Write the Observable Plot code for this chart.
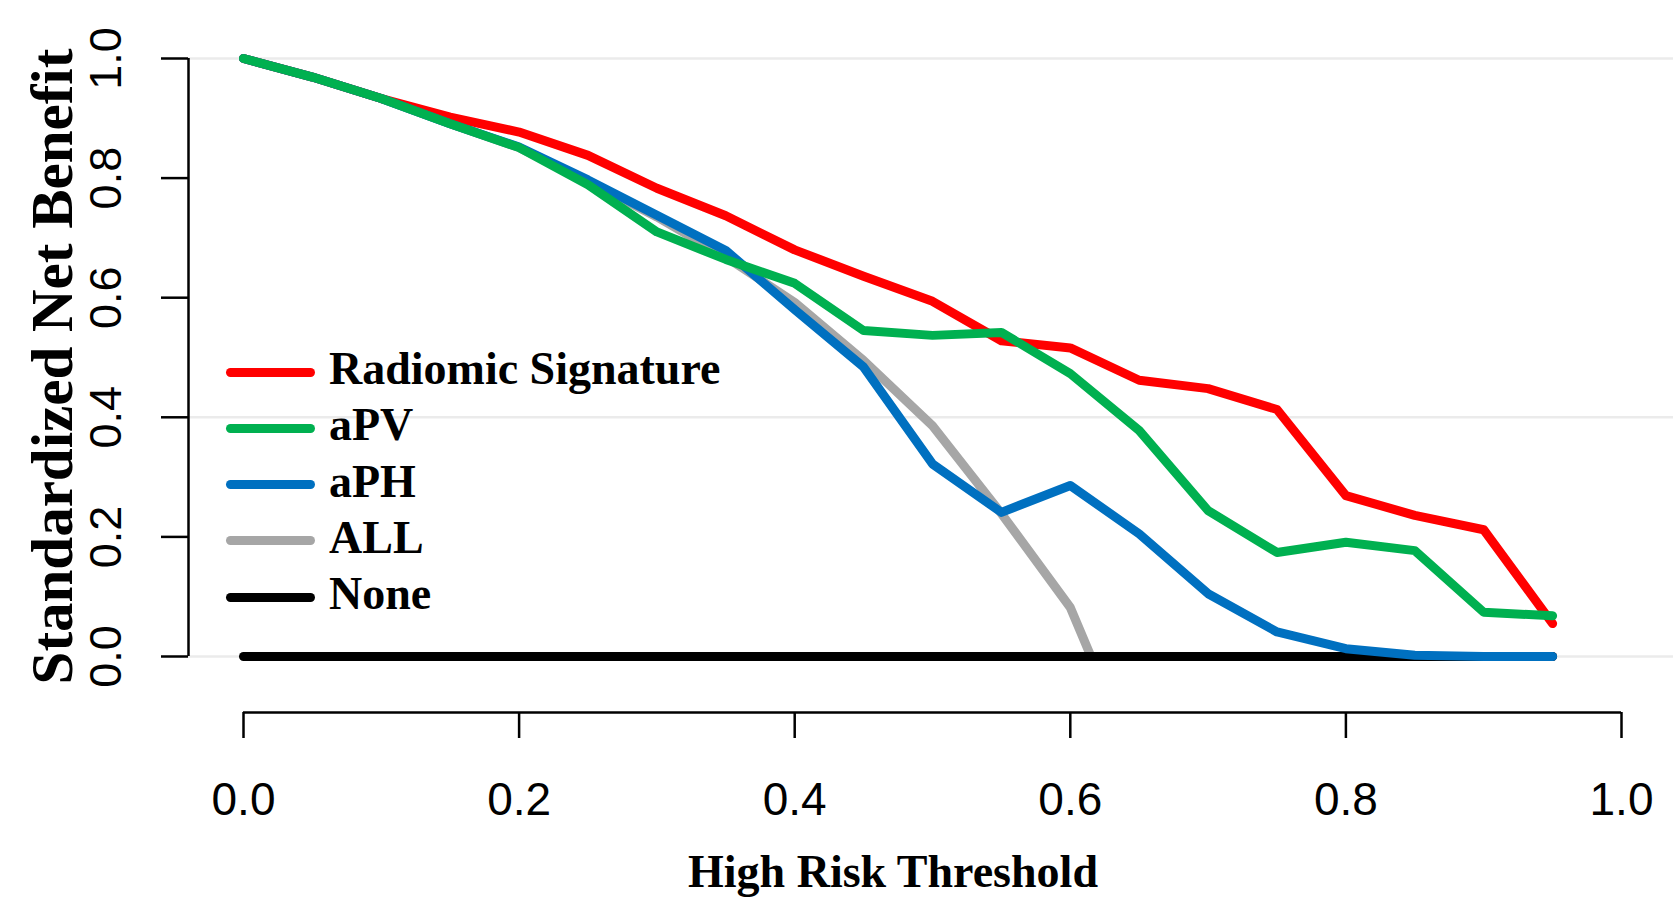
<!DOCTYPE html>
<html><head><meta charset="utf-8">
<script src="https://cdn.jsdelivr.net/npm/d3@7"></script>
<script src="https://cdn.jsdelivr.net/npm/@observablehq/plot@0.6"></script>
<style>
body{margin:0;background:#fff;}
#chart{position:relative;width:1678px;height:912px;}
#legend{position:absolute;left:226px;top:344px;font-family:"Liberation Serif","Times New Roman",serif;font-weight:bold;font-size:46px;color:#000;}
.row{display:flex;align-items:center;height:56.25px;}
.sw{width:89px;height:9px;border-radius:4.5px;margin-right:14px;flex:none;}
.lab{position:relative;top:-3px;line-height:1;white-space:nowrap;}
</style></head><body><div id="chart"></div>
<script>
// ---- data ----
const thresholds = [0.00,0.05,0.10,0.15,0.20,0.25,0.30,0.35,0.40,0.45,0.50,0.55,0.60,0.65,0.70,0.75,0.80,0.85,0.90,0.95];
const radiomic = [1.000,0.969,0.933,0.902,0.877,0.838,0.783,0.737,0.680,0.636,0.594,0.528,0.516,0.462,0.448,0.413,0.269,0.236,0.212,0.055];
const aPV      = [1.000,0.969,0.933,0.891,0.851,0.789,0.710,0.664,0.624,0.545,0.537,0.542,0.473,0.378,0.244,0.174,0.191,0.177,0.074,0.068];
const aPH      = [1.000,0.969,0.933,0.891,0.852,0.797,0.738,0.679,0.580,0.484,0.322,0.241,0.286,0.205,0.105,0.041,0.013,0.002,0.000,0.000];
const allX     = [0.00,0.05,0.10,0.15,0.20,0.25,0.30,0.35,0.40,0.45,0.50,0.55,0.60,0.615];
const allY     = [1.000,0.969,0.933,0.891,0.851,0.795,0.735,0.668,0.592,0.495,0.386,0.239,0.082,0.000];
const noneX    = [0.00,0.95];
const noneY    = [0.000,0.000];

const seriesNames  = ["Radiomic Signature","aPV","aPH","ALL","None"];
const seriesColors = ["#FF0000","#00B050","#0070C0","#A6A6A6","#000000"];
const xTicks = [0,0.2,0.4,0.6,0.8,1.0];
const yTicks = [0,0.2,0.4,0.6,0.8,1.0];
const gridY  = [0,0.4,1.0];
const xTitle = "High Risk Threshold";
const yTitle = "Standardized Net Benefit";

// ---- tables ----
const toRows = (xs, ys) => xs.map((t, i) => ({t, v: ys[i]}));
const colorOf = name => seriesColors[seriesNames.indexOf(name)];
const curve = (name, xs, ys) => Plot.line(toRows(xs, ys), {
  x: "t", y: "v", stroke: colorOf(name), strokeWidth: 9, strokeLinecap: "round", strokeLinejoin: "round"
});

const fmt = d3.format(".1f");

const plot = Plot.plot({
  width: 1678,
  height: 912,
  marginLeft: 188,
  marginRight: 5,
  marginTop: 58,
  marginBottom: 200,
  x: {domain: [0, 1], range: [243, 1621]},
  y: {domain: [0, 1], range: [656, 58]},
  style: {background: "#fff"},
  marks: [
    Plot.ruleY(gridY, {stroke: "#EBEBEB", strokeWidth: 2.5}),
    // y axis
    Plot.ruleX([yTicks[0]], {y1: yTicks[0], y2: yTicks[yTicks.length - 1], dx: -55, stroke: "#000", strokeWidth: 2.5}),
    Plot.axisY({ticks: yTicks, tickSize: 27, strokeWidth: 2.5, tickFormat: () => "", label: null}),
    Plot.text(yTicks, {y: d => d, text: d => fmt(d), frameAnchor: "left", dx: -82, rotate: -90,
      textAnchor: "middle", lineAnchor: "middle", fontSize: 45, fontFamily: "Liberation Sans, Arial, sans-serif", fill: "#000"}),
    // x axis
    Plot.ruleY([yTicks[0]], {x1: xTicks[0], x2: xTicks[xTicks.length - 1], dy: 56, stroke: "#000", strokeWidth: 2.5}),
    Plot.axisX({ticks: xTicks, tickSize: 26, strokeWidth: 2.5, tickPadding: 44, tickFormat: fmt,
      fontSize: 46, fontFamily: "Liberation Sans, Arial, sans-serif", label: null}),
    // titles
    Plot.text([xTitle], {frameAnchor: "bottom", dx: -38, dy: 160, lineAnchor: "middle", fontSize: 46,
      fontWeight: "bold", fontFamily: "Liberation Serif, Times New Roman, serif", fill: "#000"}),
    Plot.text([yTitle], {frameAnchor: "left", dx: -135, dy: -19, rotate: -90, textAnchor: "middle", lineAnchor: "middle",
      fontSize: 59, fontWeight: "bold", fontFamily: "Liberation Serif, Times New Roman, serif", fill: "#000"}),
    // curves (drawing order)
    curve("ALL", allX, allY),
    curve("None", noneX, noneY),
    curve("Radiomic Signature", thresholds, radiomic),
    curve("aPH", thresholds, aPH),
    curve("aPV", thresholds, aPV)
  ]
});
const chart = document.getElementById("chart");
chart.appendChild(plot);

// legend
const legend = document.createElement("div");
legend.id = "legend";
seriesNames.forEach((name, i) => {
  const row = document.createElement("div");
  row.className = "row";
  const sw = document.createElement("div");
  sw.className = "sw";
  sw.style.background = seriesColors[i];
  const lab = document.createElement("span");
  lab.className = "lab";
  lab.textContent = name;
  row.appendChild(sw);
  row.appendChild(lab);
  legend.appendChild(row);
});
chart.appendChild(legend);
</script>
</body></html>
